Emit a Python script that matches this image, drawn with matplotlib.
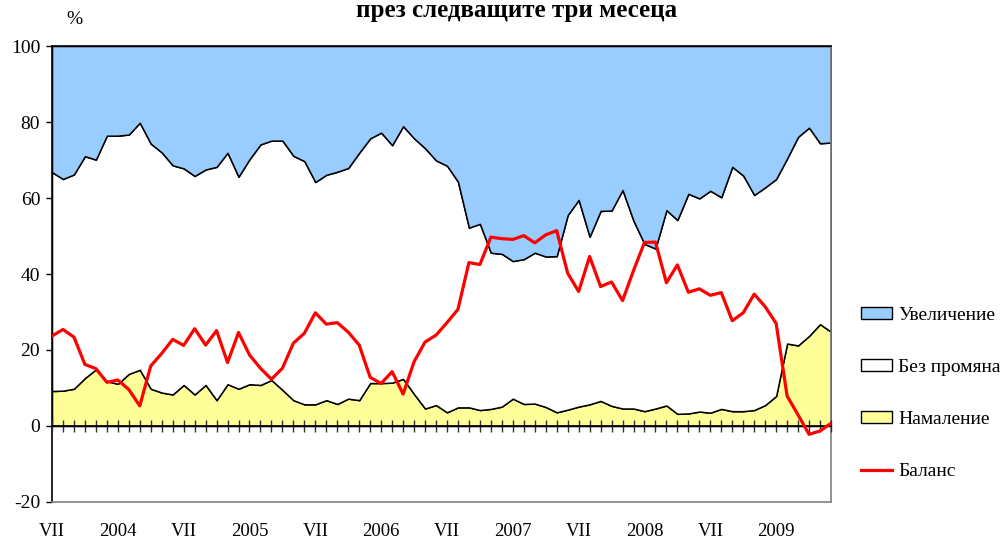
import numpy as np
import matplotlib
matplotlib.use('Agg')
import matplotlib.pyplot as plt
from matplotlib.patches import Patch
from matplotlib.lines import Line2D

plt.rcParams['font.family'] = ['Liberation Serif', 'DejaVu Serif']
plt.rcParams['axes.unicode_minus'] = False

# ── data: monthly, VII.2003 - VI.2009, % of answers ─────────────────────────
months = np.arange(72)
tick_pos = list(range(0, 72, 6))
tick_labels = ['VII', '2004', 'VII', '2005', 'VII', '2006',
               'VII', '2007', 'VII', '2008', 'VII', '2009']

namalenie = [9.2, 9.3, 9.8, 12.6, 14.9, 11.8, 11.1, 13.7, 14.8, 9.8, 8.8, 8.3,
             10.8, 8.3, 10.8, 6.8, 11.0, 9.8, 11.0, 10.8, 12.1, 9.5, 6.8, 5.7,
             5.7, 6.8, 5.8, 7.2, 6.8, 11.3, 11.3, 11.4, 12.4, 8.4, 4.6, 5.5,
             3.6, 4.9, 4.9, 4.2, 4.5, 5.1, 7.2, 5.8, 5.9, 5.0, 3.6, 4.3,
             5.1, 5.7, 6.6, 5.3, 4.6, 4.6, 3.9, 4.6, 5.4, 3.2, 3.3, 3.8,
             3.5, 4.5, 3.9, 3.9, 4.2, 5.5, 7.9, 21.7, 21.2, 23.7, 26.8, 24.8]

bez_promyana = [57.6, 55.7, 56.4, 58.4, 55.2, 64.6, 65.3, 63.0, 65.0, 64.5, 63.2, 60.3,
                57.0, 57.5, 56.7, 61.4, 60.9, 55.8, 59.2, 63.3, 63.0, 65.6, 64.3, 64.0,
                58.5, 59.3, 61.1, 60.7, 65.1, 64.4, 65.9, 62.5, 66.5, 67.3, 68.5, 64.4,
                64.9, 59.4, 47.3, 49.0, 41.1, 40.2, 36.2, 38.1, 39.7, 39.6, 41.1, 51.2,
                54.4, 44.1, 50.0, 51.4, 57.5, 49.4, 44.0, 42.1, 51.4, 51.0, 57.8, 56.1,
                58.4, 55.7, 64.3, 62.0, 56.6, 57.3, 57.1, 48.7, 54.9, 54.8, 47.6, 49.8]

uvelichenie = [33.2, 35.0, 33.8, 29.0, 29.9, 23.6, 23.6, 23.3, 20.2, 25.7, 28.0, 31.4,
               32.2, 34.2, 32.5, 31.8, 28.1, 34.4, 29.8, 25.9, 24.9, 24.9, 28.9, 30.3,
               35.8, 33.9, 33.1, 32.1, 28.1, 24.3, 22.8, 26.1, 21.1, 24.3, 26.9, 30.1,
               31.5, 35.7, 47.8, 46.8, 54.4, 54.7, 56.6, 56.1, 54.4, 55.4, 55.3, 44.5,
               40.5, 50.2, 43.4, 43.3, 37.9, 46.0, 52.1, 53.3, 43.2, 45.8, 38.9, 40.1,
               38.1, 39.8, 31.8, 34.1, 39.2, 37.2, 35.0, 29.6, 23.9, 21.5, 25.6, 25.4]

balans = [23.7, 25.4, 23.4, 16.2, 15.1, 11.5, 12.1, 9.6, 5.3, 15.8, 19.1, 22.8,
          21.2, 25.6, 21.3, 25.1, 16.7, 24.6, 18.7, 15.2, 12.3, 15.2, 21.8, 24.4,
          29.8, 26.8, 27.2, 24.7, 21.3, 12.8, 11.2, 14.3, 8.4, 16.9, 22.1, 23.9,
          27.2, 30.7, 43.0, 42.5, 49.7, 49.3, 49.1, 50.1, 48.2, 50.3, 51.4, 40.2,
          35.4, 44.6, 36.7, 37.9, 33.0, 40.9, 48.3, 48.4, 37.7, 42.4, 35.2, 36.1,
          34.4, 35.1, 27.7, 29.8, 34.7, 31.4, 27.0, 7.9, 2.9, -2.2, -1.3, 0.7]

C_UP = '#99CCFF'
C_SAME = '#FFFFFF'
C_DOWN = '#FFFF99'
C_BAL = '#FF0000'

# ── plot ────────────────────────────────────────────────────────────────────
fig = plt.figure(figsize=(10.03, 5.38), dpi=100)
ax = fig.add_axes([52 / 1003, 36 / 538, 779 / 1003, 456 / 538])

ax.stackplot(months, namalenie, bez_promyana, uvelichenie,
             colors=[C_DOWN, C_SAME, C_UP], edgecolor='black', linewidth=1.1)
ax.plot(months, balans, color=C_BAL, lw=2.3, zorder=4)

ax.set_xlim(0, 71)
ax.set_ylim(-20, 100)
ax.set_yticks(range(-20, 101, 20))
ax.tick_params(axis='y', direction='out', length=4.5, width=1, labelsize=14, pad=4)
ax.set_xticks(tick_pos)
ax.set_xticklabels(tick_labels)
ax.tick_params(axis='x', length=0, labelsize=13.5, pad=15)

for s in ['left', 'top']:
    ax.spines[s].set_linewidth(1.2)
    ax.spines[s].set_color('black')
for s in ['right', 'bottom']:
    ax.spines[s].set_linewidth(1.2)
    ax.spines[s].set_color('#808080')

# zero line with month tick marks crossing it
zero = ax.secondary_xaxis(20 / 120)
zero.set_zorder(3)
zero.set_xticks(months)
zero.tick_params(axis='x', direction='inout', length=8.5, width=1, color='#303030',
                 labelbottom=False, labeltop=False)
for s in zero.spines.values():
    s.set_linewidth(1.2)
    s.set_color('black')

fig.text(74 / 1003, 1 - 20 / 538, '%', ha='center', va='center', fontsize=14)
fig.text(517 / 1003, 1 - 11 / 538, 'през следващите три месеца',
         ha='center', va='center', fontsize=18, fontweight='bold')

handles = [Patch(facecolor=C_UP, edgecolor='black', lw=1),
           Patch(facecolor=C_SAME, edgecolor='black', lw=1),
           Patch(facecolor=C_DOWN, edgecolor='black', lw=1),
           Line2D([], [], color=C_BAL, lw=2.3)]
labels = ['Увеличение', 'Без промяна', 'Намаление', 'Баланс']
fig.legend(handles, labels, loc='upper left', bbox_to_anchor=(861 / 1003, 1 - 307 / 538),
           frameon=False, fontsize=14, handlelength=1.6, handleheight=0.55,
           handletextpad=0.3, labelspacing=1.8, borderpad=0, borderaxespad=0)

fig.savefig('out.png', dpi=100)
